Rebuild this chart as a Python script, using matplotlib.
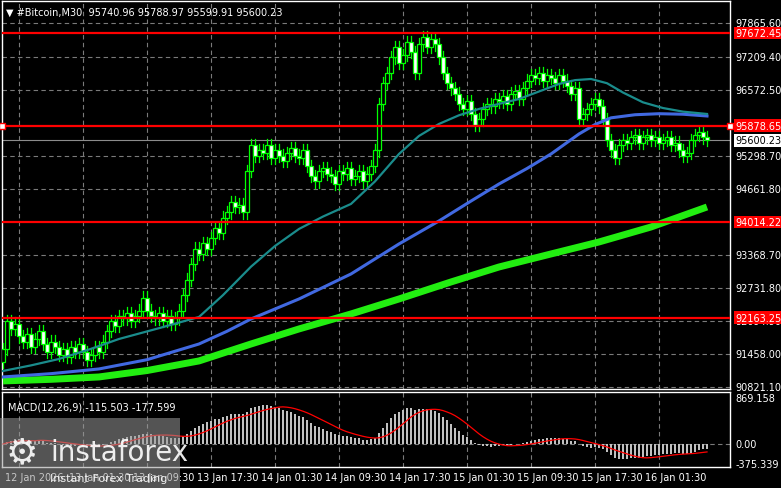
import numpy as np
import pandas as pd
import matplotlib
matplotlib.use("Agg")
import matplotlib.pyplot as plt
from matplotlib.patches import Rectangle

closes = [91560, 92100, 91950, 92050, 91800,
          91700, 91850, 91600, 91750, 91900,
          91650, 91500, 91700, 91600, 91450,
          91550, 91400, 91600, 91500, 91650,
          91500, 91350, 91450, 91600, 91500,
          91700, 91900, 92100, 92000, 92200,
          92150, 92250, 92100, 92200, 92300,
          92550, 92300, 92200, 92150, 92250,
          92100, 92200, 92050, 92150, 92300,
          92600, 92900, 93200, 93500, 93400,
          93600, 93500, 93700, 93900, 93800,
          94100, 94200, 94400, 94300, 94350,
          94200, 95000, 95500, 95300, 95400,
          95350, 95500, 95250, 95400, 95300,
          95200, 95350, 95450, 95300, 95250,
          95400, 95100, 94900, 94800, 95000,
          95050, 94950, 94900, 94750, 95000,
          94950, 95050, 94850, 94900, 95000,
          94800, 94950, 95100, 95400, 96300,
          96700, 96900, 97200, 97400, 97100,
          97250, 97500, 97300, 96900, 97450,
          97600, 97400, 97550, 97450, 97200,
          96900, 96700, 96600, 96500, 96300,
          96200, 96350, 96100, 95900, 96000,
          96200, 96300, 96250, 96400, 96350,
          96450, 96300, 96500, 96550, 96400,
          96600, 96750, 96850, 96800, 96900,
          96750, 96850, 96800, 96700, 96850,
          96750, 96650, 96500, 96600, 96000,
          96100, 96200, 96300, 96400, 96250,
          96000, 95600, 95400, 95250, 95500,
          95600, 95550, 95650, 95700, 95550,
          95650, 95700, 95600, 95650, 95550,
          95600, 95650, 95500, 95550, 95400,
          95300, 95350, 95600, 95700, 95750,
          95650, 95600.23]
first_open = 91300

# moving averages (bar index, price)
ma_slow_x = [0, 12, 24, 36, 49, 62, 74, 87, 99, 112, 124, 137, 149, 162, 176]
ma_slow_y = [90939, 90970, 91016, 91140, 91326, 91654, 91945, 92235, 92525, 92854, 93144, 93396, 93628, 93918, 94305]
ma_mid_x = [0, 12, 24, 36, 49, 56, 62, 74, 87, 99, 109, 117, 124, 131, 137, 144, 148, 152, 158, 164, 170, 176]
ma_mid_y = [91016, 91080, 91171, 91350, 91654, 91900, 92138, 92525, 93009, 93590, 94035, 94420, 94750, 95050, 95331, 95718, 95900, 96030, 96090, 96110, 96100, 96066]
ma_fast_x = [0, 7, 14, 22, 29, 39, 49, 55, 62, 68, 74, 80, 87, 93, 99, 104, 109, 114, 119, 124, 129, 134, 139, 143, 147, 151, 155, 160, 165, 170, 176]
ma_fast_y = [91132, 91240, 91364, 91560, 91751, 91960, 92177, 92600, 93150, 93550, 93880, 94120, 94364, 94800, 95331, 95680, 95912, 96080, 96202, 96300, 96395, 96540, 96686, 96760, 96782, 96700, 96520, 96330, 96220, 96150, 96105]

levels = [97672.45, 95878.65, 94014.22, 92163.25]
price_ticks = [97865.60, 97209.40, 96572.50, 95298.70, 94661.80, 93368.70, 92731.80, 92094.90, 91458.00, 90821.10]
last_price = 95600.23
time_labels = ["12 Jan 2026", "13 Jan 01:30", "13 Jan 09:30", "13 Jan 17:30", "14 Jan 01:30",
               "14 Jan 09:30", "14 Jan 17:30", "15 Jan 01:30", "15 Jan 09:30", "15 Jan 17:30", "16 Jan 01:30"]
time_label_bars = [0, 16, 32, 48, 64, 80, 96, 112, 128, 144, 160]

c = np.array(closes, dtype=float)
o = np.concatenate([[first_open], c[:-1]])
n = len(c)
idx = np.arange(n)

W, H = 781, 489
fig = plt.figure(figsize=(W/100, H/100), dpi=100, facecolor="black")
plt.rcParams['font.family'] = ['DejaVu Sans']
ax = fig.add_axes([2/W, 1-390/H, 728/W, 388/H], facecolor="black")
mx = fig.add_axes([2/W, 1-468/H, 728/W, 75/H], facecolor="black")

for a in (ax, mx):
    for s in a.spines.values():
        s.set_color("white"); s.set_linewidth(1)
    a.set_xlim(-0.25, 181.75)
    a.set_xticks([])
    a.set_yticks([])
    for b in [4 + 16*k for k in range(11)]:
        a.axvline(b, color="#7a7a7a", ls=(0, (4, 3)), lw=0.8, zorder=0)

ax.set_ylim(90783, 98291)
mx.set_ylim(-435, 983)

for t in price_ticks:
    ax.axhline(t, color="#7a7a7a", ls=(0, (4, 3)), lw=0.8, zorder=0)

grn = "#00ff00"
for i in range(n):
    hi = max(o[i], c[i]) + 120
    lo = min(o[i], c[i]) - 120
    ax.plot([i, i], [lo, hi], color=grn, lw=0.9, zorder=3)
    bot = min(o[i], c[i]); h = max(abs(c[i]-o[i]), 15)
    fc = "black" if c[i] >= o[i] else "white"
    ax.add_patch(Rectangle((i-0.4, bot), 0.8, h, facecolor=fc, edgecolor=grn, lw=0.9, zorder=4))

ax.plot(ma_slow_x, ma_slow_y, color="#22ee11", lw=5, zorder=5, solid_capstyle="butt")
ax.plot(ma_mid_x, ma_mid_y, color="#4169e1", lw=2.2, zorder=5)
ax.plot(ma_fast_x, ma_fast_y, color="#1a8c8c", lw=1.6, zorder=5)

ax.axhline(last_price, color="#8c8c8c", lw=0.8, zorder=2)
for lv in levels:
    ax.axhline(lv, color="#ff0000", lw=1.6, zorder=6)

tr = ax.get_yaxis_transform()
for t in price_ticks:
    ax.text(1.008, t, f"{t:.2f}", transform=tr, color="white", fontsize=7, va="center", ha="left",
            clip_on=False, zorder=1)
for lv in levels:
    ax.text(1.008, lv, f"{lv:.2f}", transform=tr, color="white", fontsize=7, va="center", ha="left",
            bbox=dict(boxstyle="square,pad=0.15", fc="#ff0000", ec="none"), zorder=10, clip_on=False)
ax.text(1.008, last_price, f"{last_price:.2f}", transform=tr, color="black", fontsize=7, va="center", ha="left",
        bbox=dict(boxstyle="square,pad=0.15", fc="white", ec="none"), zorder=10, clip_on=False)
ax.plot([1.0], [levels[1]], marker="s", ms=4, mfc="white", mec="red", transform=tr, clip_on=False, zorder=11)
ax.plot([0.0], [levels[1]], marker="s", ms=4, mfc="white", mec="red", transform=tr, clip_on=False, zorder=11)

ax.text(0.005, 0.985, "▼ #Bitcoin,M30  95740.96 95788.97 95599.91 95600.23", transform=ax.transAxes,
        color="white", fontsize=7, va="top", ha="left")

# MACD computed from closes
s = pd.Series(c)
macd = s.ewm(span=12, adjust=False).mean() - s.ewm(span=26, adjust=False).mean()
sig = macd.rolling(9, min_periods=1).mean()
mx.bar(idx, macd.values, width=0.6, color="#c0c0c0", zorder=3)
mx.plot(idx, sig.values, color="red", lw=0.9, zorder=4)
mx.axhline(0, color="#7a7a7a", ls=(0, (4, 3)), lw=0.8, zorder=0)
mtr = mx.get_yaxis_transform()
for v, lab in [(869.158, "869.158"), (0, "0.00"), (-375.339, "-375.339")]:
    mx.text(1.008, v, lab, transform=mtr, color="white", fontsize=7, va="center", ha="left", clip_on=False)
mx.text(0.008, 0.88, "MACD(12,26,9) -115.503 -177.599", transform=mx.transAxes, color="white",
        fontsize=7, va="top", ha="left")

xtr = mx.get_xaxis_transform()
for b, lab in zip(time_label_bars, time_labels):
    mx.text(b + 0.5, -0.07, lab, transform=xtr, color="white", fontsize=7, va="top", ha="left", clip_on=False)

# watermark
fig.patches.append(Rectangle((0, 0), 180/W, 70/H, transform=fig.transFigure, facecolor="#9a9a9a",
                             alpha=0.55, edgecolor="none", zorder=20))
fig.text(50/W, 36/H, "instaforex", color="white", fontsize=20, ha="left", va="center", zorder=21, alpha=0.9)
fig.text(50/W, 10/H, "Instant Forex Trading", color="white", fontsize=8, ha="left", va="center", zorder=21, alpha=0.9)
fig.text(22/W, 36/H, "⚙", color="white", fontsize=26, ha="center", va="center", zorder=21, alpha=0.9)

fig.savefig("out.png", dpi=100, facecolor="black")
